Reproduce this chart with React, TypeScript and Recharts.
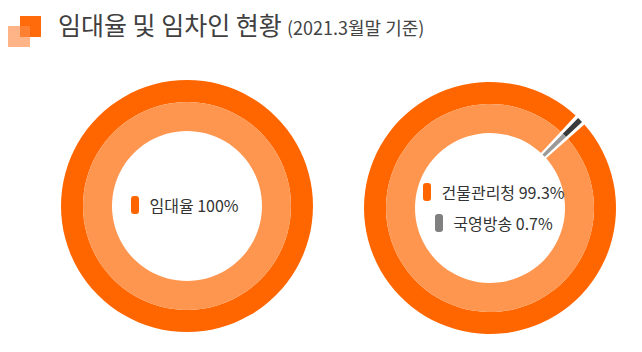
import React from "react";
import { PieChart, Pie, Cell } from "recharts";

const titleText = "임대율 및 임차인 현황";
const subtitleText = "(2021.3월말 기준)";

const leftNames = ["임대율"];
const leftValues = [100];
const leftLabels = ["임대율 100%"];

const rightNames = ["건물관리청", "국영방송"];
const rightValues = [99.3, 0.7];
const rightLabels = ["건물관리청 99.3%", "국영방송 0.7%"];

const outerColors = ["#ff6600", "#3a3a3a"];
const innerColors = ["#ff9650", "#9a9a9a"];
const markerColors = ["#ff6600", "#808080"];

const FONT = "'Noto Sans CJK KR', 'Noto Sans', sans-serif";

function Donut({
  names,
  values,
  left,
  top,
  startAngle,
  padding,
}: {
  names: string[];
  values: number[];
  left: number;
  top: number;
  startAngle: number;
  padding: number;
}) {
  const data = names.map((n, i) => ({ name: n, value: values[i] }));
  return (
    <div style={{ position: "absolute", left, top, width: 300, height: 300 }}>
      <PieChart width={300} height={300} margin={{ top: 0, right: 0, bottom: 0, left: 0 }}>
        <Pie
          data={data}
          dataKey="value"
          cx={150}
          cy={150}
          innerRadius={104}
          outerRadius={126}
          startAngle={startAngle}
          endAngle={startAngle - 360}
          paddingAngle={padding}
          stroke="none"
          isAnimationActive={false}
        >
          {data.map((d, i) => (
            <Cell key={d.name} fill={outerColors[i]} />
          ))}
        </Pie>
        <Pie
          data={data}
          dataKey="value"
          cx={150}
          cy={150}
          innerRadius={75}
          outerRadius={104}
          startAngle={startAngle}
          endAngle={startAngle - 360}
          paddingAngle={padding}
          stroke="none"
          isAnimationActive={false}
        >
          {data.map((d, i) => (
            <Cell key={d.name} fill={innerColors[i]} />
          ))}
        </Pie>
      </PieChart>
    </div>
  );
}

function LegendBox({
  labels,
  cx,
  cy,
}: {
  labels: string[];
  cx: number;
  cy: number;
}) {
  const rowH = 31;
  const h = rowH * labels.length;
  return (
    <div
      style={{
        position: "absolute",
        left: cx - 150,
        top: cy - h / 2,
        width: 300,
        height: h,
        fontFamily: FONT,
        fontSize: 16,
        color: "#333",
      }}
    >
      {labels.map((l, i) => (
        <div
          key={l}
          style={{
            height: rowH,
            display: "flex",
            alignItems: "center",
            justifyContent: "center",
          }}
        >
          <span
            style={{
              display: "inline-block",
              width: 8,
              height: 18,
              borderRadius: 3,
              background: markerColors[i],
              marginRight: 10,
            }}
          />
          <span style={{ whiteSpace: "nowrap" }}>{l}</span>
        </div>
      ))}
    </div>
  );
}

export default function App() {
  return (
    <div
      style={{
        position: "relative",
        width: 642,
        height: 352,
        margin: -8,
        background: "#fff",
        overflow: "hidden",
        fontFamily: FONT,
      }}
    >
      <div style={{ position: "absolute", left: 20, top: 16, width: 21, height: 21, background: "#ff6a0a" }} />
      <div
        style={{
          position: "absolute",
          left: 8,
          top: 26,
          width: 22,
          height: 21,
          background: "rgba(255,140,70,0.65)",
        }}
      />
      <div
        style={{
          position: "absolute",
          left: 58,
          top: 8,
          fontSize: 25,
          lineHeight: "32px",
          color: "#404040",
          fontWeight: 400,
          whiteSpace: "nowrap",
        }}
      >
        {titleText}
      </div>
      <div
        style={{
          position: "absolute",
          left: 287,
          top: 14,
          fontSize: 18,
          lineHeight: "26px",
          color: "#444",
          whiteSpace: "nowrap",
        }}
      >
        {subtitleText}
      </div>

      <Donut names={leftNames} values={leftValues} left={37} top={56} startAngle={90} padding={0} />
      <Donut names={rightNames} values={rightValues} left={340} top={58} startAngle={41.5} padding={1.6} />

      <LegendBox labels={leftLabels} cx={185} cy={205} />
      <LegendBox labels={rightLabels} cx={494} cy={207} />
    </div>
  );
}
